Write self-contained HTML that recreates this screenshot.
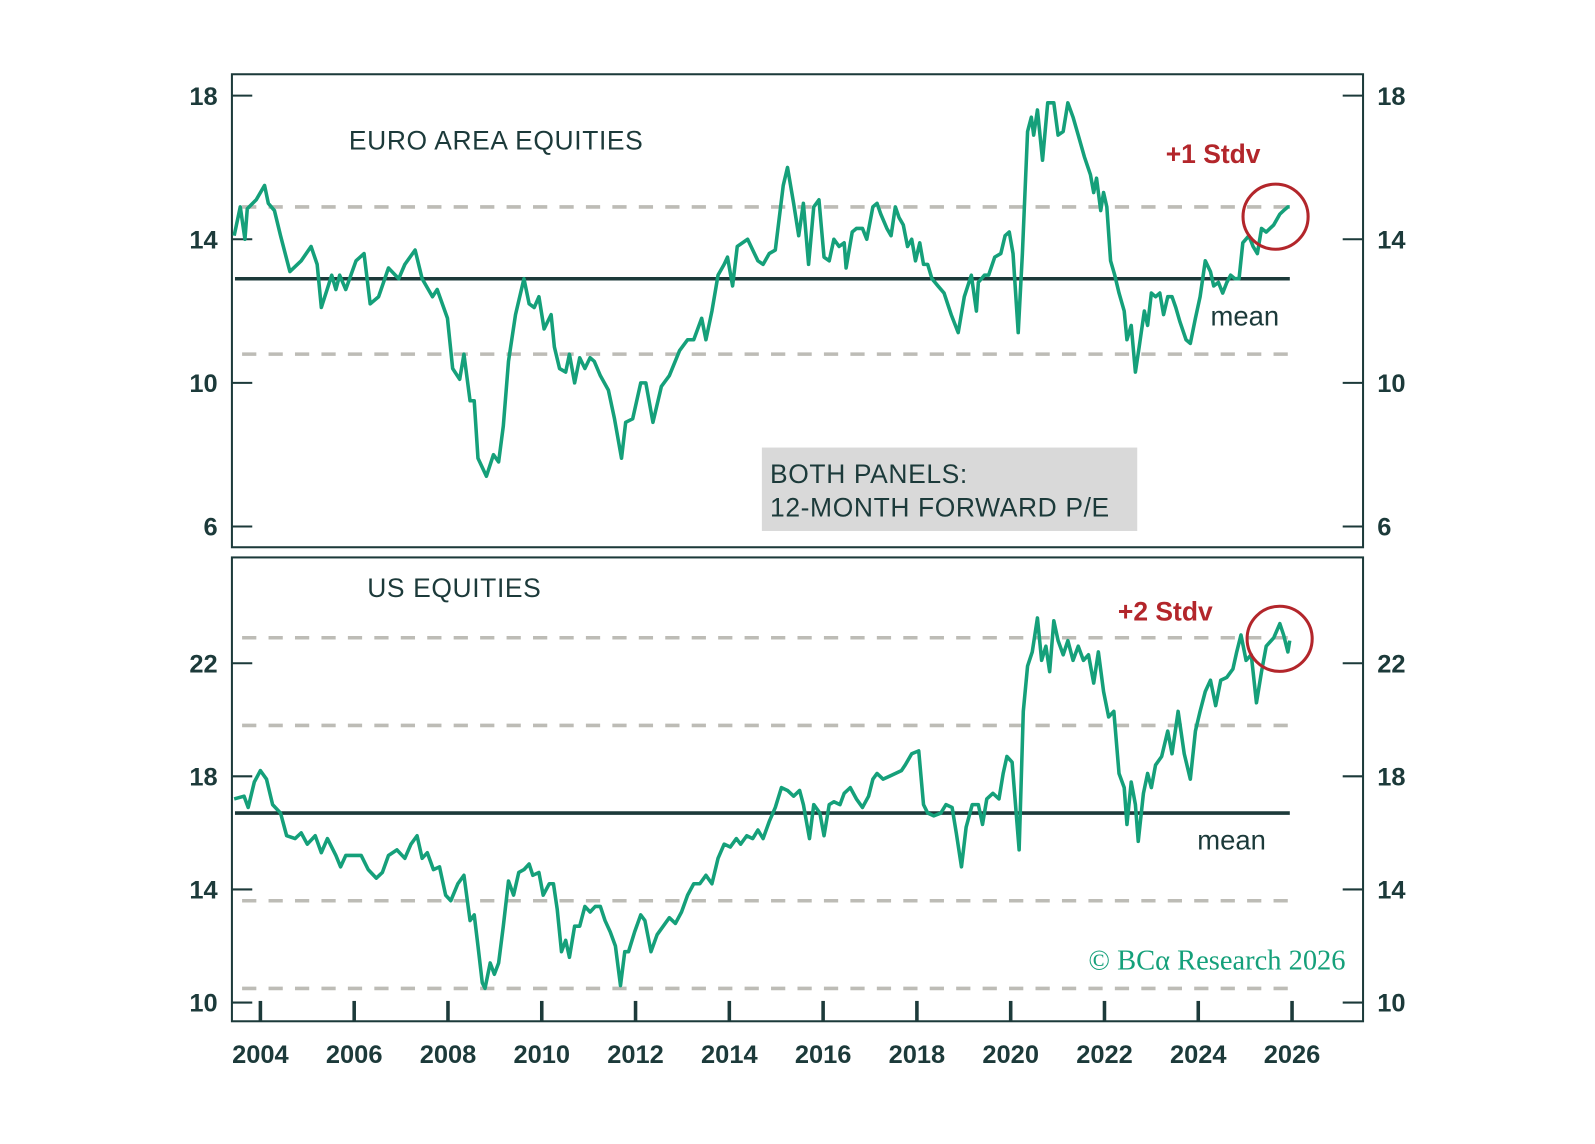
<!DOCTYPE html>
<html><head><meta charset="utf-8"><style>
body{margin:0;background:#fff;}
svg{display:block;font-family:"Liberation Sans",sans-serif;}
</style></head><body>
<svg id="chart" width="1595" height="1144" viewBox="0 0 1595 1144" xmlns="http://www.w3.org/2000/svg"><g id="root" transform="scale(1.0172)"></g></svg>
<script>
const euDates=[2003.44,2003.57,2003.67,2003.72,2003.91,2004.09,2004.17,2004.30,2004.43,2004.63,2004.87,2005.08,2005.21,2005.30,2005.52,2005.61,2005.69,2005.82,2006.04,2006.21,2006.34,2006.52,2006.73,2006.95,2007.08,2007.30,2007.45,2007.67,2007.77,2007.99,2008.10,2008.25,2008.34,2008.47,2008.56,2008.64,2008.82,2008.97,2009.08,2009.18,2009.29,2009.44,2009.62,2009.73,2009.84,2009.94,2010.05,2010.20,2010.27,2010.38,2010.51,2010.59,2010.70,2010.81,2010.92,2011.03,2011.12,2011.25,2011.42,2011.55,2011.70,2011.79,2011.94,2012.11,2012.22,2012.37,2012.55,2012.72,2012.94,2013.11,2013.24,2013.41,2013.50,2013.63,2013.76,2013.89,2013.96,2014.07,2014.17,2014.39,2014.50,2014.61,2014.72,2014.85,2014.98,2015.15,2015.24,2015.37,2015.48,2015.58,2015.69,2015.80,2015.91,2016.02,2016.13,2016.23,2016.34,2016.45,2016.49,2016.62,2016.71,2016.84,2016.93,2017.06,2017.15,2017.23,2017.36,2017.45,2017.54,2017.62,2017.71,2017.80,2017.89,2017.97,2018.06,2018.14,2018.23,2018.32,2018.45,2018.58,2018.73,2018.88,2019.01,2019.16,2019.27,2019.31,2019.44,2019.53,2019.66,2019.79,2019.88,2019.97,2020.05,2020.16,2020.25,2020.36,2020.44,2020.49,2020.57,2020.68,2020.79,2020.92,2021.01,2021.12,2021.22,2021.33,2021.44,2021.57,2021.70,2021.77,2021.83,2021.92,2021.98,2022.05,2022.13,2022.22,2022.31,2022.42,2022.48,2022.57,2022.66,2022.74,2022.85,2022.92,2023.00,2023.09,2023.18,2023.26,2023.35,2023.44,2023.52,2023.61,2023.74,2023.83,2023.94,2024.04,2024.15,2024.26,2024.33,2024.43,2024.52,2024.61,2024.69,2024.78,2024.87,2024.95,2025.08,2025.17,2025.26,2025.35,2025.45,2025.61,2025.74,2025.82,2025.91,2025.95];
const euValues=[14.1,14.9,14.0,14.85,15.1,15.5,15.0,14.8,14.1,13.1,13.4,13.8,13.3,12.1,13.0,12.6,13.0,12.6,13.4,13.6,12.2,12.4,13.2,12.9,13.3,13.7,12.9,12.4,12.6,11.8,10.4,10.1,10.8,9.5,9.5,7.9,7.4,8.0,7.8,8.8,10.6,11.9,12.9,12.2,12.1,12.4,11.5,11.9,11.0,10.4,10.3,10.8,10.0,10.7,10.4,10.7,10.6,10.2,9.8,9.0,7.9,8.9,9.0,10.0,10.0,8.9,9.9,10.2,10.9,11.2,11.2,11.8,11.2,12.0,13.0,13.3,13.5,12.7,13.8,14.0,13.7,13.4,13.3,13.6,13.7,15.5,16.0,15.0,14.1,15.0,13.3,14.9,15.1,13.5,13.4,14.0,13.8,13.9,13.2,14.2,14.3,14.3,14.0,14.9,15.0,14.7,14.3,14.1,14.9,14.6,14.4,13.8,14.0,13.4,13.9,13.3,13.3,12.9,12.7,12.5,11.9,11.4,12.4,13.0,12.0,12.8,13.0,13.0,13.5,13.6,14.1,14.2,13.6,11.4,13.6,17.0,17.4,16.9,17.6,16.2,17.8,17.8,16.9,17.0,17.8,17.4,16.9,16.3,15.8,15.3,15.7,14.8,15.3,14.9,13.4,13.0,12.5,12.0,11.2,11.6,10.3,11.0,12.0,11.6,12.5,12.4,12.5,11.9,12.4,12.4,12.1,11.7,11.2,11.1,11.8,12.4,13.4,13.1,12.7,12.8,12.5,12.8,13.0,12.9,12.9,13.9,14.1,13.8,13.6,14.3,14.2,14.4,14.7,14.8,14.9,14.9];
const usDates=[2003.44,2003.65,2003.74,2003.87,2004.00,2004.13,2004.26,2004.43,2004.56,2004.74,2004.87,2005.00,2005.17,2005.30,2005.43,2005.61,2005.71,2005.82,2006.00,2006.15,2006.30,2006.47,2006.60,2006.73,2006.91,2007.08,2007.21,2007.34,2007.45,2007.56,2007.69,2007.82,2007.95,2008.06,2008.21,2008.34,2008.47,2008.56,2008.64,2008.73,2008.79,2008.90,2008.99,2009.08,2009.18,2009.29,2009.40,2009.51,2009.62,2009.73,2009.81,2009.94,2010.03,2010.16,2010.25,2010.33,2010.42,2010.51,2010.59,2010.70,2010.81,2010.92,2011.03,2011.14,2011.25,2011.35,2011.46,2011.57,2011.68,2011.77,2011.85,2011.98,2012.11,2012.20,2012.33,2012.46,2012.59,2012.72,2012.85,2012.98,2013.11,2013.24,2013.37,2013.50,2013.63,2013.76,2013.89,2014.02,2014.15,2014.24,2014.37,2014.50,2014.61,2014.72,2014.85,2014.98,2015.11,2015.24,2015.37,2015.50,2015.58,2015.71,2015.80,2015.93,2016.02,2016.13,2016.23,2016.36,2016.45,2016.58,2016.71,2016.84,2016.97,2017.06,2017.15,2017.28,2017.41,2017.54,2017.67,2017.75,2017.89,2018.04,2018.14,2018.23,2018.36,2018.51,2018.62,2018.75,2018.84,2018.95,2019.05,2019.18,2019.31,2019.40,2019.49,2019.62,2019.75,2019.84,2019.92,2020.03,2020.18,2020.27,2020.36,2020.46,2020.57,2020.66,2020.75,2020.83,2020.92,2021.01,2021.12,2021.22,2021.33,2021.44,2021.55,2021.66,2021.77,2021.87,2021.98,2022.09,2022.20,2022.31,2022.42,2022.48,2022.57,2022.66,2022.72,2022.83,2022.92,2023.00,2023.09,2023.22,2023.35,2023.44,2023.57,2023.70,2023.83,2023.94,2024.04,2024.15,2024.26,2024.37,2024.48,2024.61,2024.74,2024.82,2024.91,2025.02,2025.13,2025.24,2025.35,2025.45,2025.61,2025.74,2025.82,2025.91,2025.95];
const usValues=[17.2,17.3,16.9,17.8,18.2,17.9,17.0,16.7,15.9,15.8,16.0,15.6,15.9,15.3,15.8,15.2,14.8,15.2,15.2,15.2,14.7,14.4,14.6,15.2,15.4,15.1,15.6,15.9,15.1,15.3,14.7,14.8,13.8,13.6,14.2,14.5,12.9,13.1,12.0,10.7,10.5,11.4,11.0,11.4,12.7,14.3,13.8,14.6,14.7,14.9,14.5,14.6,13.8,14.2,14.2,13.3,11.8,12.2,11.6,12.7,12.7,13.4,13.2,13.4,13.4,12.9,12.5,12.0,10.6,11.8,11.8,12.5,13.1,12.9,11.8,12.4,12.7,13.0,12.8,13.2,13.8,14.2,14.2,14.5,14.2,15.1,15.6,15.5,15.8,15.6,15.9,15.8,16.1,15.8,16.4,16.9,17.6,17.5,17.3,17.5,17.0,15.8,17.0,16.7,15.9,17.0,17.1,17.0,17.4,17.6,17.2,16.9,17.3,17.9,18.1,17.9,18.0,18.1,18.2,18.4,18.8,18.9,17.0,16.7,16.6,16.7,17.0,16.9,16.0,14.8,16.2,17.0,17.0,16.3,17.2,17.4,17.2,18.1,18.7,18.5,15.4,20.3,21.9,22.4,23.6,22.1,22.6,21.7,23.5,22.8,22.3,22.8,22.1,22.6,22.1,22.3,21.3,22.4,21.0,20.1,20.3,18.1,17.6,16.3,17.8,17.0,15.7,17.4,18.1,17.6,18.4,18.7,19.6,18.8,20.3,18.8,17.9,19.6,20.3,21.0,21.4,20.5,21.4,21.5,21.8,22.4,23.0,22.1,22.3,20.6,21.7,22.6,22.9,23.4,23.0,22.4,22.8];
const yearTicks=[2004,2006,2008,2010,2012,2014,2016,2018,2020,2022,2024,2026];
const euTicks=[6,10,14,18];
const usTicks=[10,14,18,22];
const euMean=12.9, euBands=[14.9,10.8];
const usMean=16.7, usBands=[22.9,19.8,13.6,10.5];

const NS="http://www.w3.org/2000/svg";
const root=document.getElementById('root');
function el(tag,attrs,parent){const e=document.createElementNS(NS,tag);for(const k in attrs)e.setAttribute(k,attrs[k]);(parent||root).appendChild(e);return e;}
const X=yr=>256+(yr-2004)*46.1;
const yEu=v=>94+(18-v)*35.3;
const yUs=v=>652+(22-v)*27.8;
const DARK='#1c3a3a', GREEN='#15a07a', RED='#b3262b', GREY='#bdbcb6';

function panel(name,top,bottom,yf,ticks,mean,bands,dates,vals){
  const g=el('g',{});
  
  
  const r=el('rect',{x:228,y:top,width:1112,height:bottom-top,fill:'none',stroke:DARK,'stroke-width':2},g);
  
  
  ticks.forEach(t=>{
    const y=yf(t);
    const a=el('line',{x1:228,x2:248,y1:y,y2:y,stroke:DARK,'stroke-width':2},g);
    
    
    const b=el('line',{x1:1320,x2:1340,y1:y,y2:y,stroke:DARK,'stroke-width':2},g);
    
    
    const l=el('text',{x:214,y:y+9,'text-anchor':'end','font-size':25,'font-weight':'bold',fill:DARK},g);
    l.textContent=t;
    
    
    const l2=el('text',{x:1354,y:y+9,'font-size':25,'font-weight':'bold',fill:DARK},g);
    l2.textContent=t;
    
    
  });
  bands.forEach(bv=>{
    const d=el('line',{x1:238,x2:1268,y1:yf(bv),y2:yf(bv),stroke:GREY,'stroke-width':3.5,'stroke-dasharray':'14 12'},g);
    
    
  });
  const m=el('line',{x1:231,x2:1268,y1:yf(mean),y2:yf(mean),stroke:DARK,'stroke-width':3.5},g);
  
  
  const pts=dates.map((d,i)=>X(d).toFixed(1)+','+yf(vals[i]).toFixed(1)).join(' ');
  const p=el('polyline',{points:pts,fill:'none',stroke:GREEN,'stroke-width':3.5,'stroke-linejoin':'round'},g);
  
  
}
panel('euro',73,538,yEu,euTicks,euMean,euBands,euDates,euValues);
panel('us',548,1004,yUs,usTicks,usMean,usBands,usDates,usValues);

yearTicks.forEach(yr=>{
  const t=el('line',{x1:X(yr),x2:X(yr),y1:984,y2:1004,stroke:DARK,'stroke-width':3.5});
  
  
  const l=el('text',{x:X(yr),y:1045,'text-anchor':'middle','font-size':25,'font-weight':'bold',fill:DARK});
  l.textContent=yr;
  
  
});

function txt(s,attrs,name){const t=el('text',attrs);t.textContent=s;return t;}
txt('EURO AREA EQUITIES',{x:343,y:147,'font-size':26,fill:DARK,'letter-spacing':0.6},'euro-panel-title');
txt('US EQUITIES',{x:361,y:587,'font-size':26,fill:DARK,'letter-spacing':0.6},'us-panel-title');
txt('+1 Stdv',{x:1146,y:160,'font-size':26,'font-weight':'bold',fill:RED},'plus-1-stdv-label');
txt('+2 Stdv',{x:1099,y:610,'font-size':26,'font-weight':'bold',fill:RED},'plus-2-stdv-label');
txt('mean',{x:1190,y:320,'font-size':27,fill:DARK},'euro-mean-label');
txt('mean',{x:1177,y:835,'font-size':27,fill:DARK},'us-mean-label');
const c1=el('circle',{cx:1254,cy:213,r:32,fill:'none',stroke:RED,'stroke-width':3});


const c2=el('circle',{cx:1258,cy:628,r:32,fill:'none',stroke:RED,'stroke-width':3});


const box=el('rect',{x:749,y:440,width:369,height:82,fill:'#d9d9d9'});


txt('BOTH PANELS:',{x:757,y:475,'font-size':26,fill:DARK,'letter-spacing':0.6},'note-line-1');
txt('12-MONTH FORWARD P/E',{x:757,y:508,'font-size':26,fill:DARK,'letter-spacing':0.6},'note-line-2');
txt('© BCα Research 2026',{x:1070,y:953,'font-size':28,fill:GREEN,'font-family':'Liberation Serif, serif'},'copyright');
</script>
</body></html>
